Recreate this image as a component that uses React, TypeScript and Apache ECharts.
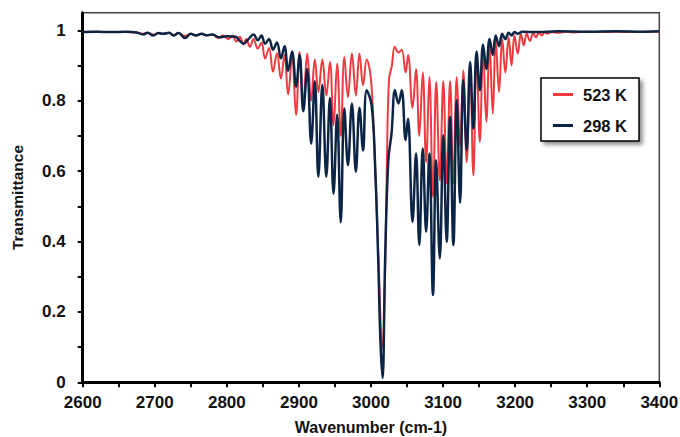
import React, { useEffect, useRef } from 'react';
import * as echarts from 'echarts';

// 523 K spectrum (wavenumber, transmittance)
const wn523 = [2600, 2620, 2640, 2660, 2675, 2684, 2690, 2698, 2705, 2712, 2720, 2726, 2733, 2742, 2750, 2757, 2765, 2772, 2780, 2788, 2795, 2802, 2808, 2813, 2818, 2823, 2827, 2832, 2837, 2843, 2848, 2853, 2858.5, 2864, 2869.5, 2875, 2880, 2885, 2890.5, 2896, 2901, 2906, 2911.5, 2917, 2922, 2927, 2932.5, 2938, 2943, 2948, 2953, 2958, 2963, 2968, 2973.5, 2979, 2984, 2989, 2994, 3000, 3005, 3010, 3016, 3019.5, 3022, 3025, 3029, 3033, 3038, 3042.6, 3048, 3051.5, 3057.6, 3062.5, 3067, 3071.8, 3076.5, 3081, 3086, 3090.5, 3095.5, 3100.3, 3105, 3109.7, 3114.3, 3119, 3123.6, 3128, 3132.8, 3137.5, 3142, 3146.5, 3151, 3155.5, 3160, 3164.5, 3169, 3173, 3177.7, 3182, 3186.4, 3191, 3195, 3199, 3203.6, 3208, 3212, 3216, 3220.5, 3225, 3229, 3233, 3237, 3241, 3245, 3250, 3260, 3270, 3280, 3300, 3320, 3340, 3360, 3380, 3400];
const t523 = [0.995, 0.996, 0.995, 0.995, 0.994, 0.99, 0.993, 0.988, 0.992, 0.99, 0.993, 0.986, 0.992, 0.984, 0.99, 0.985, 0.99, 0.985, 0.988, 0.978, 0.985, 0.975, 0.985, 0.968, 0.982, 0.96, 0.975, 0.953, 0.975, 0.948, 0.965, 0.92, 0.95, 0.882, 0.935, 0.863, 0.93, 0.818, 0.925, 0.759, 0.938, 0.79, 0.934, 0.8, 0.917, 0.825, 0.917, 0.815, 0.91, 0.73, 0.905, 0.7, 0.924, 0.81, 0.934, 0.815, 0.934, 0.844, 0.917, 0.86, 0.65, 0.37, 0.097, 0.3, 0.62, 0.86, 0.9, 0.953, 0.937, 0.945, 0.88, 0.93, 0.78, 0.89, 0.7, 0.88, 0.625, 0.867, 0.527, 0.853, 0.574, 0.855, 0.565, 0.855, 0.565, 0.867, 0.67, 0.886, 0.625, 0.905, 0.588, 0.934, 0.683, 0.948, 0.74, 0.96, 0.763, 0.97, 0.825, 0.975, 0.88, 0.98, 0.9, 0.985, 0.934, 0.99, 0.957, 0.99, 0.97, 0.992, 0.98, 0.993, 0.985, 0.994, 0.99, 0.995, 0.993, 0.996, 0.994, 0.996, 0.995, 0.996, 0.995, 0.996, 0.996];

// 298 K spectrum (wavenumber, transmittance)
const wn298 = [2600, 2620, 2640, 2660, 2675, 2684, 2690, 2698, 2705, 2712, 2720, 2726, 2733, 2742, 2750, 2757, 2765, 2772, 2780, 2790, 2800, 2812, 2818, 2823, 2830, 2837, 2843, 2848, 2853, 2858.5, 2864, 2869.5, 2875, 2880, 2885, 2890.5, 2896, 2901, 2906, 2911.5, 2917, 2922, 2927, 2932.5, 2938, 2943, 2948, 2953, 2958, 2963, 2968, 2973.5, 2979, 2984, 2989, 2994, 3001, 3006, 3010, 3013, 3016, 3019.5, 3024, 3028.5, 3033.3, 3038, 3042.6, 3048, 3051.3, 3057.6, 3062.5, 3067, 3071.8, 3076.5, 3081, 3086, 3090.3, 3095.5, 3100.3, 3105, 3109.7, 3114.3, 3119, 3123.6, 3128, 3132.8, 3137.5, 3142, 3146.5, 3151, 3155.5, 3160, 3164.5, 3169, 3173, 3177.7, 3182, 3186.4, 3191, 3195, 3199, 3203.6, 3210, 3230, 3260, 3300, 3340, 3380, 3400];
const t298 = [0.995, 0.996, 0.995, 0.996, 0.994, 0.988, 0.993, 0.985, 0.992, 0.99, 0.993, 0.985, 0.992, 0.978, 0.99, 0.985, 0.99, 0.986, 0.988, 0.98, 0.983, 0.982, 0.97, 0.962, 0.975, 0.988, 0.972, 0.985, 0.962, 0.975, 0.945, 0.965, 0.92, 0.955, 0.885, 0.94, 0.84, 0.93, 0.77, 0.89, 0.678, 0.855, 0.584, 0.845, 0.584, 0.808, 0.536, 0.76, 0.455, 0.778, 0.617, 0.792, 0.598, 0.78, 0.659, 0.83, 0.785, 0.6, 0.35, 0.12, 0.012, 0.34, 0.631, 0.707, 0.83, 0.792, 0.83, 0.688, 0.749, 0.456, 0.65, 0.39, 0.664, 0.428, 0.65, 0.248, 0.631, 0.352, 0.702, 0.399, 0.754, 0.39, 0.801, 0.51, 0.858, 0.66, 0.91, 0.72, 0.94, 0.83, 0.96, 0.89, 0.975, 0.93, 0.985, 0.955, 0.99, 0.975, 0.993, 0.985, 0.995, 0.99, 0.996, 0.995, 0.997, 0.996, 0.997, 0.996, 0.997];

const xTicks = [2600, 2650, 2700, 2750, 2800, 2850, 2900, 2950, 3000, 3050, 3100, 3150, 3200, 3250, 3300, 3350, 3400];
const xLabels = [2600, 2700, 2800, 2900, 3000, 3100, 3200, 3300, 3400];
const yTicks = [0, 0.1, 0.2, 0.3, 0.4, 0.5, 0.6, 0.7, 0.8, 0.9, 1];
const yLabels = [0, 0.2, 0.4, 0.6, 0.8, 1];

const seriesNames = ['523 K', '298 K'];
const seriesColors = ['#ef3b3f', '#0c2546'];

export default function App() {
  const ref = useRef<HTMLDivElement>(null);
  useEffect(() => {
    document.body.style.margin = '0';
    const chart = echarts.init(ref.current!, null, { renderer: 'svg' });
    const font = "'Liberation Sans', Arial, sans-serif";
    const d523 = wn523.map((w, i) => [w, t523[i]]);
    const d298 = wn298.map((w, i) => [w, t298[i]]);
    chart.setOption({
      animation: false,
      grid: {
        left: 82.7, right: 20.7, top: 12.7, bottom: 54.7,
        outerBoundsMode: 'none', containLabel: false,
        show: true, borderColor: '#444', borderWidth: 1.5, backgroundColor: 'transparent',
      },
      legend: {
        orient: 'vertical',
        left: 541, top: 78,
        padding: [8, 12, 7, 12],
        itemGap: 14,
        itemWidth: 20, itemHeight: 3,
        icon: 'rect',
        backgroundColor: '#fff',
        borderColor: '#000', borderWidth: 1.5, borderRadius: 0,
        shadowBlur: 4, shadowColor: 'rgba(0,0,0,0.45)', shadowOffsetX: 3, shadowOffsetY: 3,
        textStyle: { fontFamily: font, fontWeight: 'bold', fontSize: 16.5, color: '#111', padding: [0, 0, 0, 5] },
        data: seriesNames,
      },
      xAxis: {
        type: 'value', min: 2600, max: 3400, interval: 100,
        name: 'Wavenumber (cm-1)', nameLocation: 'middle', nameGap: 37,
        nameTextStyle: { fontFamily: font, fontWeight: 'bold', fontSize: 16, color: '#111' },
        axisLine: { show: true, onZero: false, lineStyle: { color: '#000', width: 3 } },
        axisTick: { show: true, length: 5, lineStyle: { color: '#000', width: 2 }, customValues: xTicks },
        axisLabel: {
          customValues: xLabels, margin: 12, fontFamily: font, fontWeight: 'bold', fontSize: 17, color: '#111',
          formatter: (v: number) => String(v),
        },
        splitLine: { show: false },
      },
      yAxis: {
        type: 'value', min: 0, max: 1.05,
        name: 'Transmittance', nameLocation: 'middle', nameGap: 57, nameRotate: 90,
        nameTextStyle: { fontFamily: font, fontWeight: 'bold', fontSize: 15.5, color: '#111' },
        axisLine: { show: true, onZero: false, lineStyle: { color: '#000', width: 3 } },
        axisTick: { show: true, length: 5, lineStyle: { color: '#000', width: 2 }, customValues: yTicks },
        axisLabel: {
          customValues: yLabels, margin: 17, fontFamily: font, fontWeight: 'bold', fontSize: 17, color: '#111',
          formatter: (v: number) => String(Math.round(v * 10) / 10),
        },
        splitLine: { show: false },
      },
      series: [
        {
          name: seriesNames[0], type: 'line', data: d523, showSymbol: false, symbol: 'none',
          smooth: 0.4, lineStyle: { color: seriesColors[0], width: 2 }, itemStyle: { color: seriesColors[0] },
        },
        {
          name: seriesNames[1], type: 'line', data: d298, showSymbol: false, symbol: 'none',
          smooth: 0.4, lineStyle: { color: seriesColors[1], width: 2.5 }, itemStyle: { color: seriesColors[1] },
        },
      ],
    });
    return () => chart.dispose();
  }, []);
  return <div ref={ref} style={{ width: 680, height: 437 }} />;
}
